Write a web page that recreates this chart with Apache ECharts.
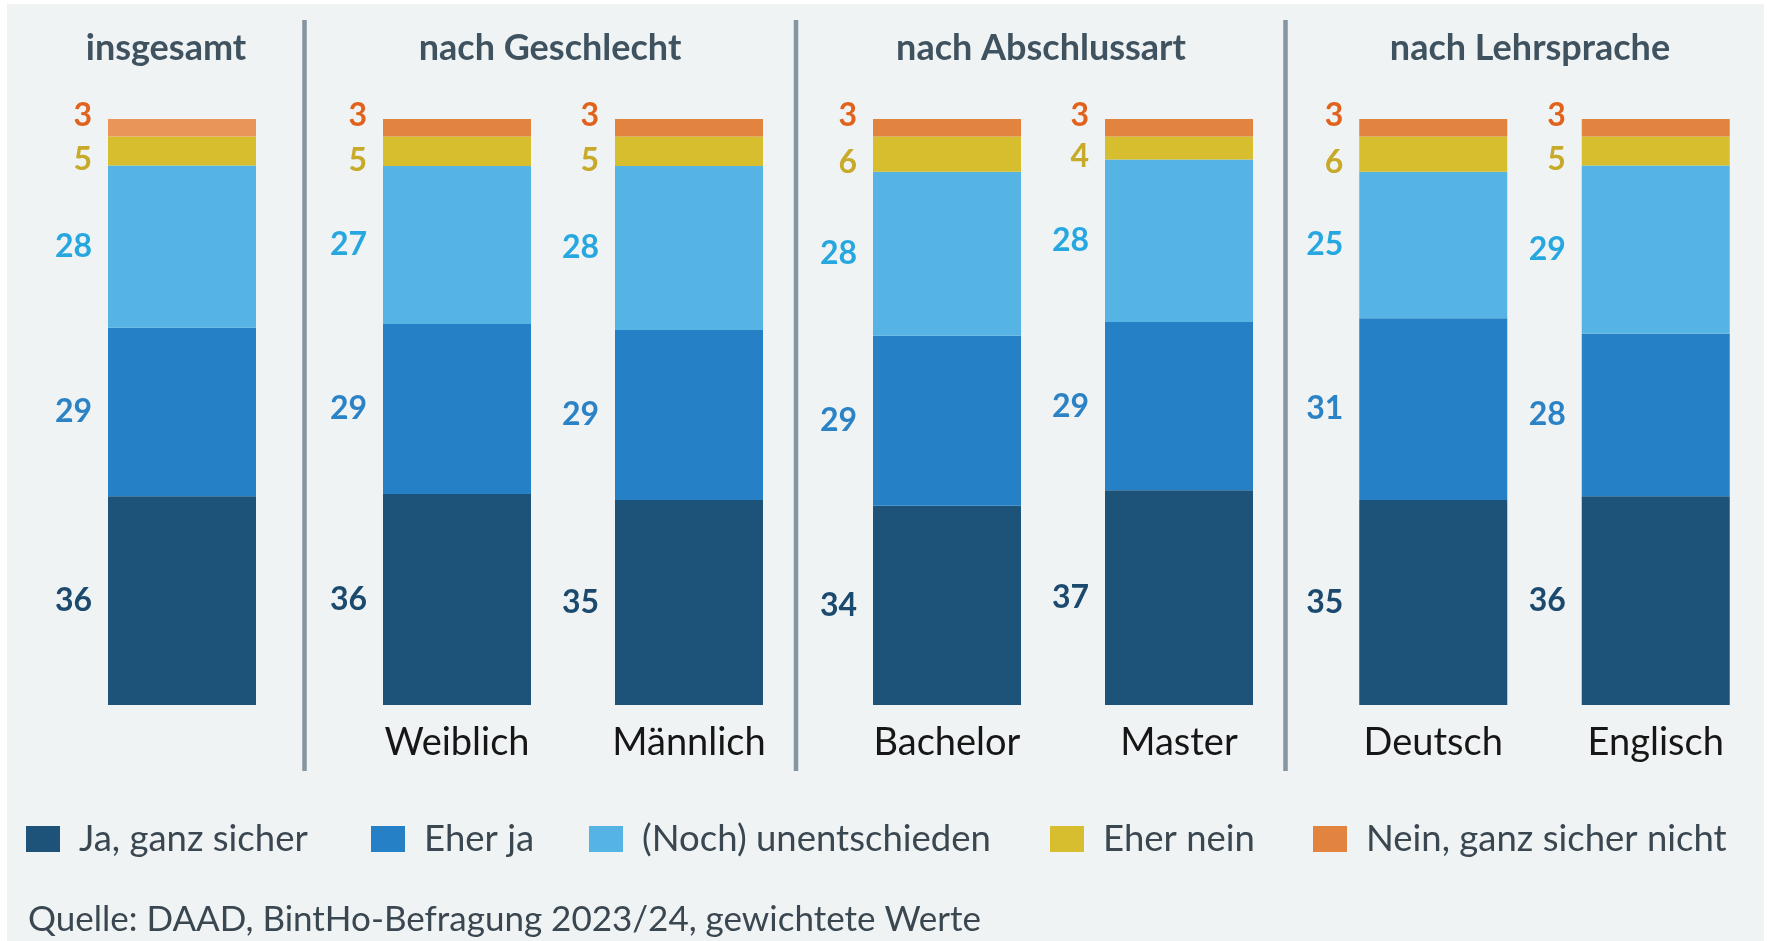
<!DOCTYPE html>
<html lang="de">
<head>
    <meta charset="UTF-8">
    <title>Studienabschluss in Deutschland</title>
    <script src="https://cdn.jsdelivr.net/npm/echarts@6/dist/echarts.min.js"></script>
    <style>
        html, body { margin: 0; padding: 0; background: #ffffff; }
    </style>
</head>
<body>
<div id="main" style="width: 1767px;height:941px;"></div>
<script type="text/javascript">
    // Gruppen und Balken
    var panelTitles = ['insgesamt', 'nach Geschlecht', 'nach Abschlussart', 'nach Lehrsprache'];
    var panelCategories = [[''], ['Weiblich', 'Männlich'], ['Bachelor', 'Master'], ['Deutsch', 'Englisch']];
    var answers = ['Ja, ganz sicher', 'Eher ja', '(Noch) unentschieden', 'Eher nein', 'Nein, ganz sicher nicht'];

    // Werte in Prozent, Reihenfolge: insgesamt, Weiblich, Männlich, Bachelor, Master, Deutsch, Englisch
    var jaGanzSicher = [36, 36, 35, 34, 37, 35, 36];
    var eherJa = [29, 29, 29, 29, 29, 31, 28];
    var unentschieden = [28, 27, 28, 28, 28, 25, 29];
    var eherNein = [5, 5, 5, 6, 4, 6, 5];
    var neinGanzSicherNicht = [3, 3, 3, 3, 3, 3, 3];

    var answerValues = [jaGanzSicher, eherJa, unentschieden, eherNein, neinGanzSicherNicht];
    var barColors = ['#1d5279', '#2680c5', '#56b4e5', '#d7be2e', '#e2843f'];
    var labelColors = ['#1b4a6e', '#2b82c4', '#27a7e0', '#c8aa2a', '#e0621c'];
    var labelOffsets = [[0, 0], [0, 0], [0, 0], [0, 9], [0, -12]];

    var FONT = 'Lato, "Liberation Sans", sans-serif';

    // Balken auf 100 % normieren (Rundungssummen 100/101)
    var totals = jaGanzSicher.map(function (v, i) {
        return answerValues.reduce(function (s, arr) { return s + arr[i]; }, 0);
    });

    var gridLayout = [
        {left: 66, width: 232},
        {left: 341, width: 464},
        {left: 831, width: 464},
        {left: 1322, width: 464}
    ];

    var grids = [], xAxes = [], yAxes = [], series = [];
    var barIndex = 0;
    panelCategories.forEach(function (cats, p) {
        grids.push({left: gridLayout[p].left, width: gridLayout[p].width, top: 119, height: 586});
        xAxes.push({
            type: 'category',
            gridIndex: p,
            data: cats,
            axisLine: {show: false},
            axisTick: {show: false},
            axisLabel: {
                show: p > 0,
                margin: 19,
                color: '#161616',
                fontFamily: FONT,
                fontSize: 38
            }
        });
        yAxes.push({type: 'value', gridIndex: p, min: 0, max: 100, show: false});

        answerValues.forEach(function (arr, a) {
            var data = cats.map(function (c, k) {
                var i = barIndex + k;
                var item = {value: arr[i] / totals[i] * 100, raw: arr[i]};
                // der Balken "insgesamt" hat ein helleres Orange
                if (i === 0 && a === 4) {
                    item.itemStyle = {color: '#e9955a'};
                }
                return item;
            });
            series.push({
                type: 'bar',
                name: answers[a],
                xAxisIndex: p,
                yAxisIndex: p,
                stack: 'panel' + p,
                barWidth: 148,
                itemStyle: {color: barColors[a]},
                label: {
                    show: true,
                    position: 'left',
                    distance: 16,
                    offset: labelOffsets[a],
                    color: labelColors[a],
                    fontFamily: FONT,
                    fontWeight: 'bold',
                    fontSize: 32,
                    formatter: function (params) { return params.data.raw; }
                },
                data: data
            });
        });
        barIndex += cats.length;
    });

    // eine Legende je Eintrag, damit die Abstände stimmen
    var legendLeft = [26, 371, 589, 1050, 1313];
    var legends = answers.map(function (name, a) {
        return {
            data: [name],
            left: legendLeft[a],
            top: 819,
            padding: 0,
            icon: 'rect',
            itemWidth: 34,
            itemHeight: 26,
            selectedMode: false,
            textStyle: {
                color: '#3a4750',
                fontFamily: FONT,
                fontSize: 36.5,
                lineHeight: 40,
                padding: [0, 0, 0, 14]
            }
        };
    });

    var titleX = [166, 550, 1041, 1530];
    var dividerX = [304.5, 796, 1285.5];
    var graphics = [{
        type: 'rect',
        z: -10,
        shape: {x: 7, y: 4, width: 1757, height: 937},
        style: {fill: '#eff3f4'}
    }];
    panelTitles.forEach(function (t, p) {
        graphics.push({
            type: 'text',
            x: titleX[p],
            y: 48,
            style: {
                text: t,
                fill: '#3f525f',
                font: 'bold 36px ' + FONT,
                textAlign: 'center',
                textVerticalAlign: 'middle'
            }
        });
    });
    dividerX.forEach(function (x) {
        graphics.push({
            type: 'line',
            shape: {x1: x, y1: 20, x2: x, y2: 771},
            style: {stroke: '#8595a1', lineWidth: 4.5}
        });
    });
    graphics.push({
        type: 'text',
        x: 28,
        y: 920,
        style: {
            text: 'Quelle: DAAD, BintHo-Befragung 2023/24, gewichtete Werte',
            fill: '#3a4750',
            font: '35px ' + FONT,
            textAlign: 'left',
            textVerticalAlign: 'middle'
        }
    });

    var myChart = echarts.init(document.getElementById('main'));
    myChart.setOption({
        animation: false,
        backgroundColor: '#ffffff',
        grid: grids,
        xAxis: xAxes,
        yAxis: yAxes,
        legend: legends,
        graphic: graphics,
        series: series
    });
</script>
</body>
</html>
